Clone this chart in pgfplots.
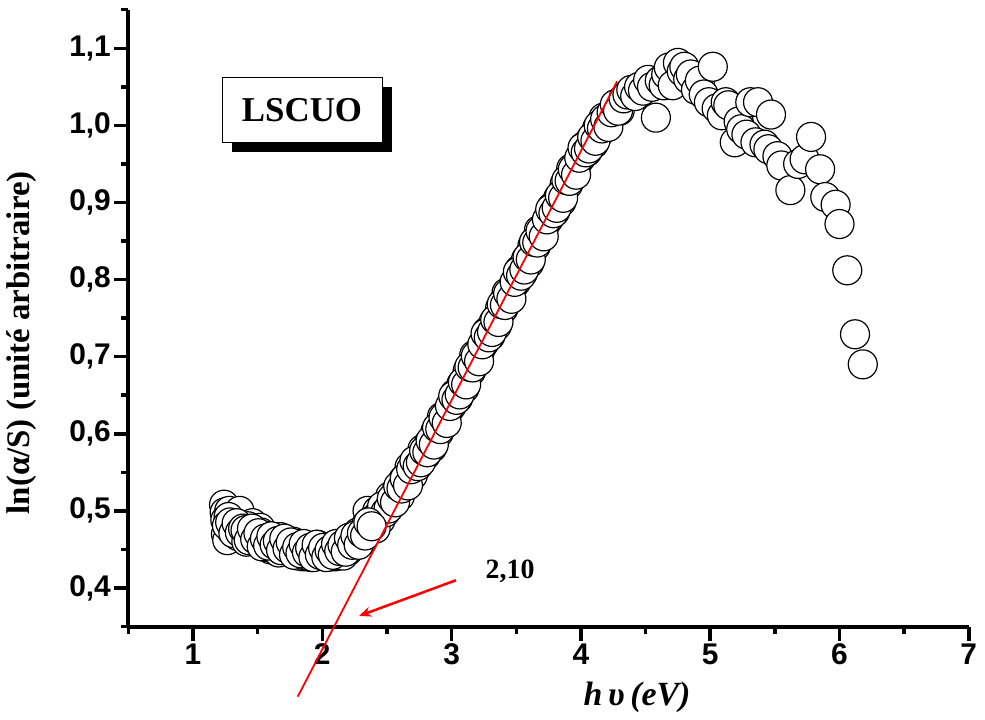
\documentclass[border=0pt]{standalone}
\usepackage{fontspec}
\setmainfont{Liberation Serif}
\newfontfamily\sansf{Liberation Sans}
\usepackage{pgfplots}
\pgfplotsset{compat=1.18}
\usetikzlibrary{arrows.meta}

\pgfplotstableread{
x y
1.240 0.508
1.245 0.498
1.255 0.470
1.265 0.462
1.280 0.500
1.310 0.490
1.360 0.500
1.460 0.484
1.520 0.478
1.250 0.488
1.275 0.492
1.300 0.474
1.325 0.482
1.350 0.467
1.375 0.479
1.400 0.468
1.425 0.480
1.450 0.461
1.475 0.469
1.500 0.465
1.525 0.472
1.550 0.456
1.575 0.465
1.600 0.450
1.625 0.464
1.650 0.454
1.675 0.466
1.700 0.448
1.725 0.456
1.750 0.453
1.775 0.460
1.800 0.445
1.825 0.454
1.850 0.441
1.875 0.455
1.900 0.445
1.925 0.452
1.950 0.441
1.975 0.449
2.000 0.446
2.025 0.452
2.050 0.441
2.075 0.451
2.100 0.441
2.125 0.456
2.150 0.448
2.175 0.460
2.200 0.448
2.225 0.460
2.250 0.461
2.275 0.472
2.300 0.462
2.325 0.476
2.350 0.500
2.375 0.487
2.400 0.482
2.425 0.500
2.450 0.488
2.475 0.502
2.500 0.505
2.525 0.519
2.550 0.510
2.575 0.526
2.600 0.519
2.625 0.540
2.650 0.537
2.675 0.557
2.700 0.546
2.725 0.561
2.750 0.565
2.775 0.580
2.800 0.572
2.825 0.588
2.850 0.582
2.875 0.603
2.900 0.601
2.925 0.622
2.950 0.613
2.975 0.630
3.000 0.636
3.025 0.652
3.050 0.646
3.075 0.664
3.100 0.659
3.125 0.682
3.150 0.681
3.175 0.702
3.200 0.693
3.225 0.710
3.250 0.717
3.275 0.733
3.300 0.727
3.325 0.745
3.350 0.740
3.375 0.763
3.400 0.762
3.425 0.783
3.450 0.774
3.475 0.791
3.500 0.797
3.525 0.813
3.550 0.808
3.575 0.826
3.600 0.821
3.625 0.844
3.650 0.843
3.675 0.864
3.700 0.855
3.725 0.872
3.750 0.878
3.775 0.894
3.800 0.888
3.825 0.906
3.850 0.901
3.875 0.924
3.900 0.923
3.925 0.944
3.950 0.935
3.975 0.952
4.000 0.958
4.025 0.973
4.050 0.966
4.075 0.982
4.100 0.976
4.125 0.996
4.150 0.992
4.175 1.010
4.200 0.998
4.225 1.012
4.250 1.015
4.275 1.028
4.300 1.019
1.2625 0.481
1.2875 0.485
1.3125 0.471
1.3375 0.484
1.3625 0.472
1.3875 0.477
1.4125 0.460
1.4375 0.473
1.4625 0.476
1.4875 0.462
1.5125 0.459
1.5375 0.466
1.5625 0.453
1.5875 0.467
1.6125 0.456
1.6375 0.462
1.6625 0.446
1.6875 0.459
1.7125 0.463
1.7375 0.449
1.7625 0.447
1.7875 0.454
1.8125 0.442
1.8375 0.457
1.8625 0.447
1.8875 0.453
1.9125 0.440
1.9375 0.451
1.9625 0.456
1.9875 0.442
2.0125 0.441
2.0375 0.450
2.0625 0.441
2.0875 0.455
2.1125 0.447
2.1375 0.455
2.1625 0.442
2.1875 0.458
2.2125 0.465
2.2375 0.455
2.2625 0.457
2.2875 0.469
2.3125 0.462
2.3375 0.481
2.3625 0.476
2.3875 0.488
2.4125 0.477
2.4375 0.496
2.4625 0.506
2.4875 0.498
2.5125 0.503
2.5375 0.516
2.5625 0.511
2.5875 0.532
2.6125 0.529
2.6375 0.542
2.6625 0.533
2.6875 0.554
2.7125 0.565
2.7375 0.558
2.7625 0.563
2.7875 0.578
1.40625 0.475
1.43125 0.462
1.45625 0.477
1.48125 0.463
1.50625 0.471
1.53125 0.454
1.55625 0.464
1.58125 0.455
1.60625 0.467
1.63125 0.456
1.65625 0.461
1.68125 0.449
1.70625 0.464
1.73125 0.451
1.75625 0.459
1.78125 0.443
1.80625 0.453
1.83125 0.445
1.85625 0.457
1.88125 0.446
1.90625 0.452
1.93125 0.440
1.95625 0.456
1.98125 0.443
2.00625 0.452
2.03125 0.440
2.05625 0.449
2.08125 0.443
2.10625 0.457
2.13125 0.448
2.15625 0.456
2.18125 0.447
2.20625 0.465
2.23125 0.456
2.25625 0.468
2.28125 0.456
2.30625 0.471
2.33125 0.468
2.35625 0.485
2.38125 0.480
2.8125 0.576
2.8375 0.591
2.8625 0.586
2.8875 0.608
2.9125 0.606
2.9375 0.621
2.9625 0.614
2.9875 0.636
3.0125 0.649
3.0375 0.644
3.0625 0.651
3.0875 0.667
3.1125 0.664
3.1375 0.687
3.1625 0.686
3.1875 0.701
3.2125 0.694
3.2375 0.716
3.2625 0.730
3.2875 0.725
3.3125 0.732
3.3375 0.748
3.3625 0.745
3.3875 0.768
3.4125 0.767
3.4375 0.782
3.4625 0.775
3.4875 0.797
3.5125 0.810
3.5375 0.805
3.5625 0.813
3.5875 0.829
3.6125 0.826
3.6375 0.849
3.6625 0.848
3.6875 0.863
3.7125 0.856
3.7375 0.878
3.7625 0.891
3.7875 0.886
3.8125 0.893
3.8375 0.909
3.8625 0.906
3.8875 0.929
3.9125 0.928
3.9375 0.943
3.9625 0.936
3.9875 0.958
4.0125 0.971
4.0375 0.965
4.0625 0.970
4.0875 0.985
4.1125 0.980
4.1375 1.000
4.1625 0.996
4.1875 1.008
4.2125 0.998
4.2375 1.017
4.2625 1.027
4.2875 1.019
4.33 1.035
4.36 1.040
4.39 1.046
4.42 1.038
4.45 1.050
4.48 1.045
4.52 1.059
4.55 1.050
4.58 1.010
4.61 1.058
4.64 1.052
4.66 1.066
4.68 1.075
4.71 1.052
4.75 1.081
4.78 1.070
4.80 1.076
4.83 1.060
4.85 1.066
4.89 1.046
4.92 1.058
4.95 1.040
4.99 1.030
5.02 1.076
5.05 1.022
5.09 1.013
5.12 1.030
5.14 1.026
5.19 0.978
5.22 1.005
5.24 0.995
5.28 0.988
5.31 1.030
5.35 0.978
5.37 1.030
5.42 0.975
5.45 0.969
5.47 1.014
5.52 0.960
5.55 0.948
5.62 0.916
5.68 0.950
5.73 0.956
5.78 0.985
5.85 0.943
5.89 0.907
5.97 0.897
6.00 0.872
6.06 0.812
6.12 0.729
6.18 0.690
}\datatable

\begin{document}
\begin{tikzpicture}
\begin{axis}[
  set layers,
  x=129.3bp, y=771bp,
  xmin=0.5, xmax=7, ymin=0.35, ymax=1.15,
  axis lines*=left,
  axis line style={line width=4bp, black},
  tick align=outside,
  xtick={1,2,3,4,5,6,7},
  ytick={0.4,0.5,0.6,0.7,0.8,0.9,1.0,1.1},
  minor xtick={0.5,1.5,2.5,3.5,4.5,5.5,6.5},
  minor ytick={0.35,0.45,0.55,0.65,0.75,0.85,0.95,1.05,1.15},
  major tick length=14bp, minor tick length=7bp,
  tick style={line width=3.5bp, black},
  /pgf/number format/assume math mode=true,
  tick label style={font=\sansf\bfseries\fontsize{30}{36}\selectfont},
  y tick label style={/pgf/number format/.cd, fixed, fixed zerofill, precision=1, use comma},
  x tick label style={/pgf/number format/.cd, fixed, precision=0},
  clip=false,
]
\addplot[only marks, mark=*, mark size=14.5bp,
  mark options={fill=white, draw=black, line width=1.2bp}] table[x=x, y=y] {\datatable};
\addplot[red, line width=1.8bp, on layer=axis foreground] coordinates {(1.81,0.259) (4.28,1.057)};
\draw[red, line width=2.5bp, -{Stealth[length=12bp, width=10bp]}] (axis cs:3.034,0.410) -- (axis cs:2.284,0.3637);
\node[font=\bfseries\fontsize{28}{32}\selectfont] at (axis cs:3.452,0.421) {2,10};
\node[fill=black, minimum width=160bp, minimum height=65bp, inner sep=0pt, xshift=10bp, yshift=-10bp] at (axis cs:1.843,1.020) {};
\node[draw=black, line width=1bp, fill=white, minimum width=160bp, minimum height=65bp, inner sep=0pt,
  font=\bfseries\fontsize{35}{40}\selectfont] at (axis cs:1.843,1.020) {LSCUO};
\node[rotate=90, font=\bfseries\fontsize{33}{38}\selectfont] at (axis cs:-0.322,0.718) {ln(α/S) (unité arbitraire)};
\node[font=\bfseries\itshape\fontsize{34}{40}\selectfont] at (axis cs:4.434,0.2586) {h\,υ\,(eV)};
\coordinate (bbl) at (axis cs:-0.4927,0.2288);
\coordinate (btr) at (axis cs:7.1253,1.1626);
\end{axis}
\pgfresetboundingbox
\path[use as bounding box] (bbl) rectangle (btr);
\end{tikzpicture}
\end{document}
